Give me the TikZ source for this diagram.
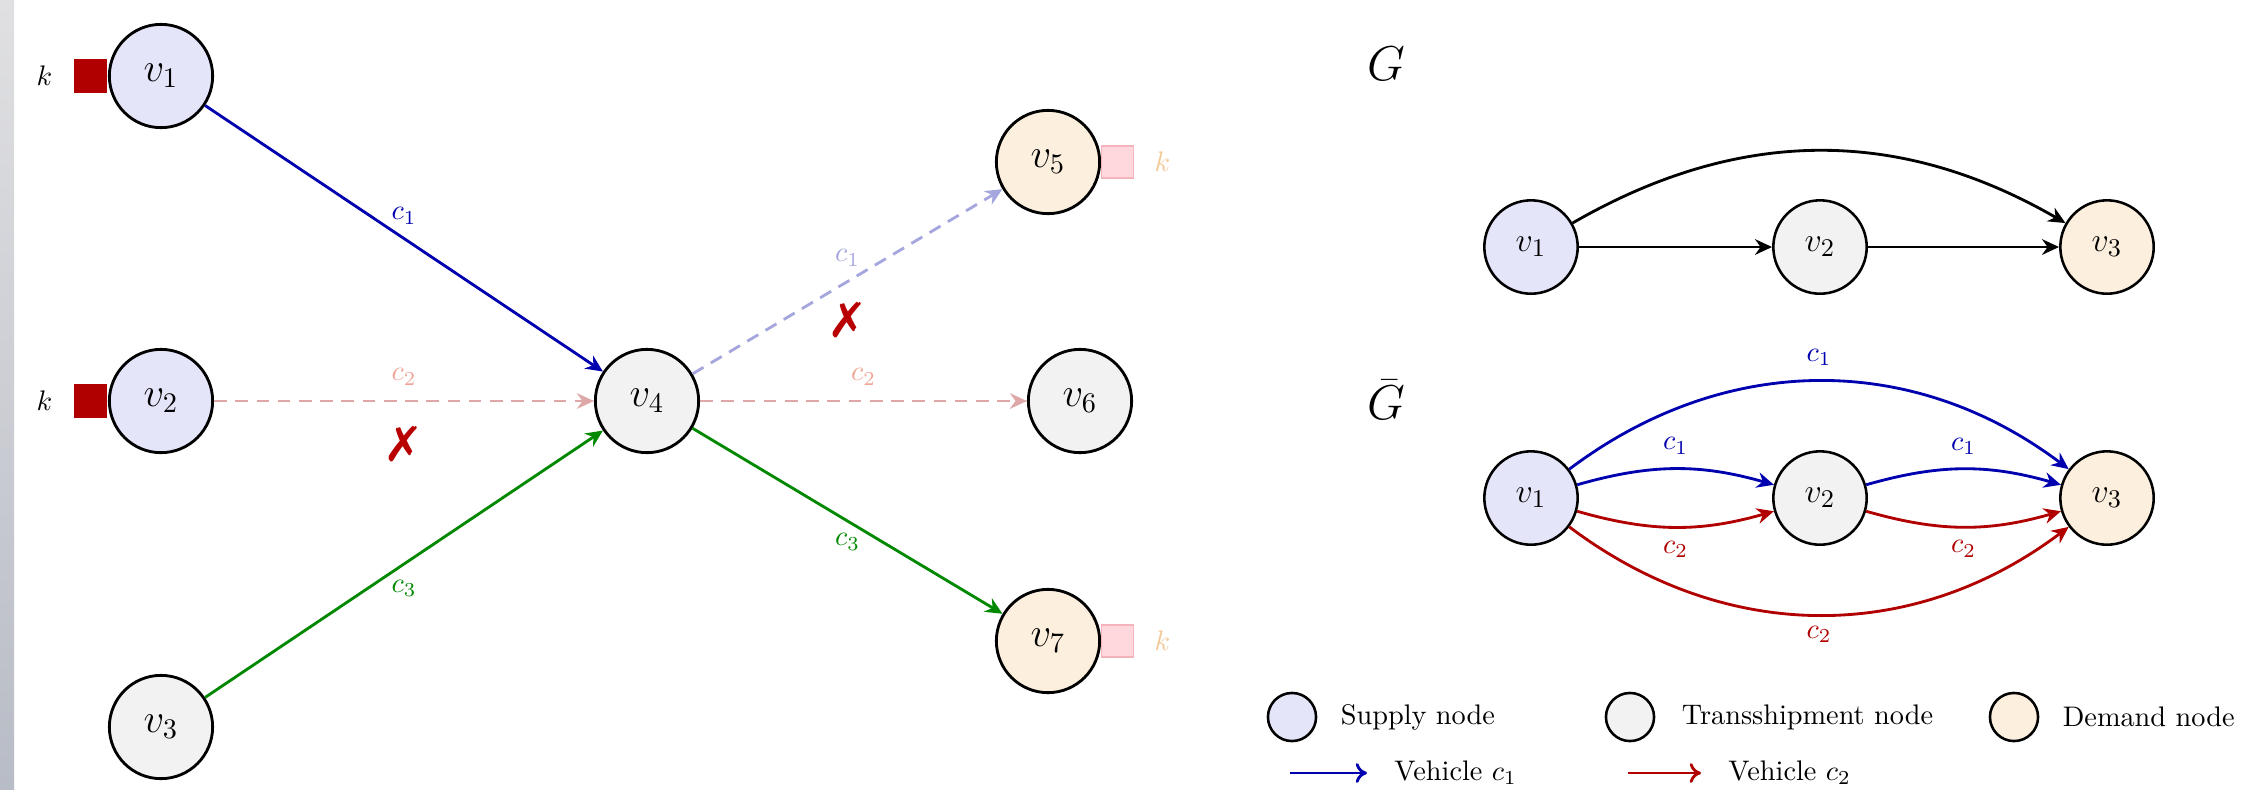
\documentclass[tikz,border=0pt]{standalone}
\usepackage{fontspec}
\newfontfamily\dingfont{DejaVu Sans}
\usetikzlibrary{arrows.meta}

\definecolor{supplyfill}{RGB}{229,229,250}
\definecolor{transfill}{RGB}{242,242,242}
\definecolor{demandfill}{RGB}{253,239,222}
\definecolor{vblue}{RGB}{0,0,175}
\definecolor{vred}{RGB}{176,0,0}
\definecolor{vgreen}{RGB}{0,136,0}
\definecolor{fadeblue}{RGB}{166,166,222}
\definecolor{fadered}{RGB}{222,168,168}
\definecolor{fadeclabel}{RGB}{238,165,150}
\definecolor{pinkfill}{RGB}{255,216,222}
\definecolor{pinkdraw}{RGB}{245,180,188}
\definecolor{lightk}{RGB}{242,200,150}
\definecolor{xred}{RGB}{185,0,0}
\definecolor{bartop}{RGB}{224,224,226}
\definecolor{barbot}{RGB}{184,188,198}

\begin{document}
\begin{tikzpicture}[x=0.3534pt, y=0.3534pt,
  bignode/.style={circle, draw, line width=1pt, minimum size=36.5pt, inner sep=0pt,
    font=\fontsize{14}{16}\selectfont},
  smallnode/.style={circle, draw, line width=0.9pt, minimum size=33pt, inner sep=0pt,
    font=\fontsize{12.5}{14}\selectfont},
  legnode/.style={circle, draw, line width=0.9pt, minimum size=17pt, inner sep=0pt},
  supply/.style={fill=supplyfill},
  trans/.style={fill=transfill},
  demand/.style={fill=demandfill},
  edge/.style={line width=1pt, -{Stealth[length=6pt,width=5.5pt]}},
  faded/.style={dash pattern=on 4.5pt off 3pt},
  lbl/.style={inner sep=0pt},
  crossmark/.style={inner sep=0pt, text=xred, font=\dingfont\fontsize{17}{17}\selectfont},
  darksq/.style={rectangle, fill=vred, minimum size=11.7pt, inner sep=0pt},
  lightsq/.style={rectangle, fill=pinkfill, draw=pinkdraw, line width=0.5pt,
    minimum size=11.2pt, inner sep=0pt},
  legtext/.style={inner sep=0pt, anchor=west},
  legarrow/.style={line width=1pt, -{To[length=4pt,width=7pt]}}
]
\useasboundingbox (0,0) rectangle (2248,-789);

% side bar
\shade[top color=bartop, bottom color=barbot] (0,0) rectangle (14,-789);

% ---------------- left network ----------------
\node[bignode, supply] (v1) at (161,-76) {$v_1$};
\node[bignode, supply] (v2) at (161,-401) {$v_2$};
\node[bignode, trans]  (v3) at (161,-727) {$v_3$};
\node[bignode, trans]  (v4) at (647,-401) {$v_4$};
\node[bignode, demand] (v5) at (1048,-162) {$v_5$};
\node[bignode, trans]  (v6) at (1080,-401) {$v_6$};
\node[bignode, demand] (v7) at (1048,-641) {$v_7$};

% stock markers
\node[darksq, anchor=east] (s1) at (v1.west) {};
\node[darksq, anchor=east] (s2) at (v2.west) {};
\node[lightsq, anchor=west] (s5) at (v5.east) {};
\node[lightsq, anchor=west] (s7) at (v7.east) {};
\node[lbl, anchor=east, xshift=-7.4pt] (k1) at (s1.west) {$k$};
\node[lbl, anchor=east, xshift=-7.4pt] (k2) at (s2.west) {$k$};
\node[lbl, anchor=west, xshift=7pt, text=lightk] (k5) at (s5.east) {$k$};
\node[lbl, anchor=west, xshift=7pt, text=lightk] (k7) at (s7.east) {$k$};

% vehicle moves
\draw[edge, vblue] (v1) -- node[lbl, text=vblue, yshift=8pt] {$c_1$} (v4);
\draw[edge, fadered, faded] (v2) -- node[lbl, text=fadeclabel, yshift=8.5pt] {$c_2$}
  node[crossmark, yshift=-15.2pt] {✗} (v4);
\draw[edge, vgreen] (v3) -- node[lbl, text=vgreen, yshift=-8.5pt] {$c_3$} (v4);
\draw[edge, fadeblue, faded] (v4) -- node[lbl, text=fadeblue, yshift=8.3pt] {$c_1$}
  node[crossmark, yshift=-13.6pt] {✗} (v5);
\draw[edge, fadered, faded] (v4) -- node[lbl, text=fadeclabel, yshift=8.5pt] {$c_2$} (v6);
\draw[edge, vgreen] (v4) -- node[lbl, text=vgreen, yshift=-7.4pt] {$c_3$} (v7);

% ---------------- graph G ----------------
\node[font=\LARGE] (Glbl) at (1386,-64) {$G$};
\node[smallnode, supply] (g1) at (1531,-247) {$v_1$};
\node[smallnode, trans]  (g2) at (1820,-247) {$v_2$};
\node[smallnode, demand] (g3) at (2107,-247) {$v_3$};
\draw[edge] (g1) to[bend left=30] (g3);
\draw[edge] (g1) -- (g2);
\draw[edge] (g2) -- (g3);

% ---------------- graph G-bar ----------------
\node[font=\LARGE] (Hlbl) at (1386,-400) {$\bar{G}$};
\node[smallnode, supply] (h1) at (1531,-498) {$v_1$};
\node[smallnode, trans]  (h2) at (1820,-498) {$v_2$};
\node[smallnode, demand] (h3) at (2107,-498) {$v_3$};
\draw[edge, vblue] (h1) to[bend left=37] node[lbl, text=vblue, yshift=8.5pt] {$c_1$} (h3);
\draw[edge, vblue] (h1) to[bend left=16] node[lbl, text=vblue, yshift=8.1pt] {$c_1$} (h2);
\draw[edge, vblue] (h2) to[bend left=16] node[lbl, text=vblue, yshift=8.1pt] {$c_1$} (h3);
\draw[edge, vred] (h1) to[bend right=16] node[lbl, text=vred, yshift=-7.8pt] {$c_2$} (h2);
\draw[edge, vred] (h2) to[bend right=16] node[lbl, text=vred, yshift=-7.8pt] {$c_2$} (h3);
\draw[edge, vred] (h1) to[bend right=37] node[lbl, text=vred, yshift=-7pt] {$c_2$} (h3);

% ---------------- legend ----------------
\node[legnode, supply] (l1) at (1292,-717) {};
\node[legtext, xshift=8.1pt] (t1) at (l1.east) {Supply node};
\node[legnode, trans] (l2) at (1630,-717) {};
\node[legtext, xshift=9.2pt] (t2) at (l2.east) {Transshipment node};
\node[legnode, demand] (l3) at (2014,-717) {};
\node[legtext, xshift=8.1pt] (t3) at (l3.east) {Demand node};

\coordinate (a1s) at (1290,-773);
\coordinate (a1e) at (1367,-773);
\draw[legarrow, vblue] (a1s) -- (a1e);
\node[legtext, xshift=9.5pt] (t4) at (a1e) {Vehicle $c_1$};
\coordinate (a2s) at (1628,-773);
\coordinate (a2e) at (1701,-773);
\draw[legarrow, vred] (a2s) -- (a2e);
\node[legtext, xshift=9.5pt] (t5) at (a2e) {Vehicle $c_2$};
\end{tikzpicture}
\end{document}
